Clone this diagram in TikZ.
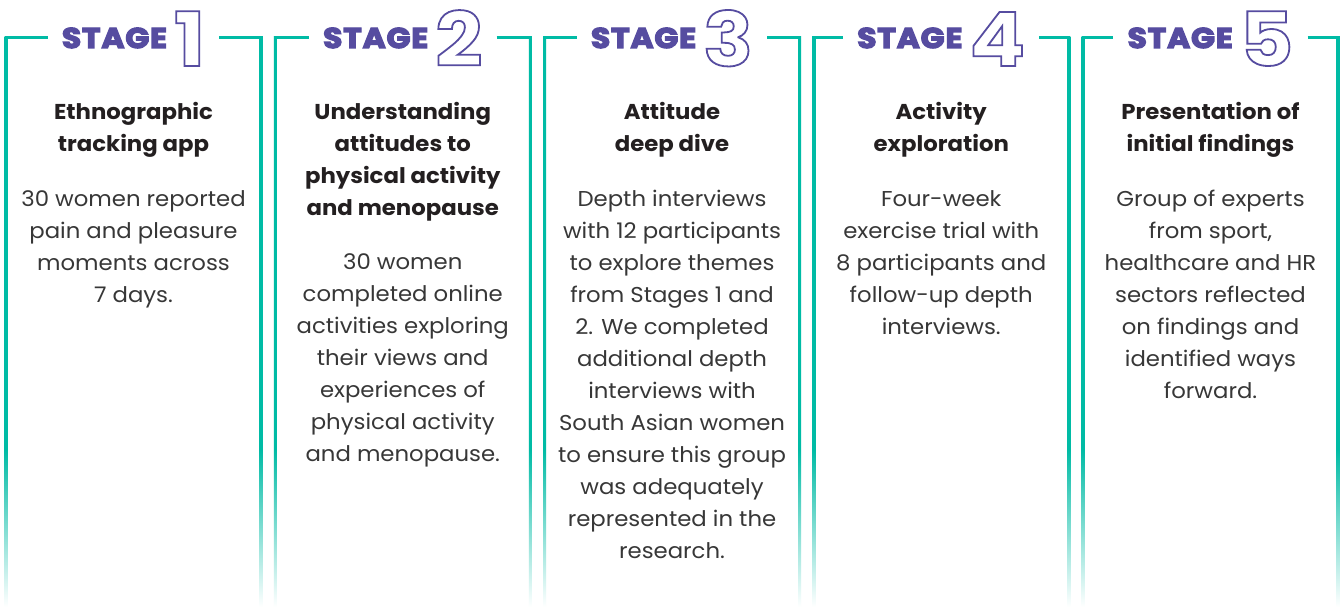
\documentclass[tikz,border=0pt]{standalone}
\usepackage{fontspec}
\setmainfont{Poppins}[FakeStretch=1.06]
\newfontfamily\stagefont[FakeStretch=1.1,LetterSpace=3]{Poppins}
\usetikzlibrary{positioning}
\definecolor{stageteal}{RGB}{0,187,165}
\definecolor{stagepurple}{RGB}{86,76,160}
\definecolor{headblack}{RGB}{35,31,32}
\definecolor{bodygrey}{RGB}{55,55,55}
% solid at the top, fading out over the lowest quarter
\pgfdeclareverticalshading{stagefade}{100bp}{color(0bp)=(white); color(25bp)=(white); color(38.8bp)=(stageteal); color(100bp)=(stageteal)}
% heavy word (fill + stroke) and outlined digit (stroke only)
\newcommand{\heavyword}[1]{\special{pdf:literal direct 2 Tr 1.3 w}#1\special{pdf:literal direct 0 Tr}}
\newcommand{\hollowdigit}[1]{{\fontsize{75}{75}\selectfont\special{pdf:literal direct 1 Tr 1.8 w}#1\special{pdf:literal direct 0 Tr}}}
\tikzset{
  stage title/.style={anchor=base, inner xsep=14pt, inner ysep=0pt, text=stagepurple, font=\stagefont\fontsize{28.5}{30}\selectfont\bfseries},
  stage line/.style={draw=stageteal, line width=3pt},
  stage post/.style={shading=stagefade, draw=none},
  stage head/.style={anchor=base, inner sep=0pt, align=center, text=headblack, font=\fontsize{21.5}{32}\selectfont\bfseries},
  stage text/.style={anchor=north, inner sep=0pt, align=center, text=bodygrey, font=\fontsize{21.5}{32}\selectfont},
}

\begin{document}
\begin{tikzpicture}[x=1pt,y=-1pt]
\useasboundingbox[fill=white] (0,0) rectangle (1343,607);
% the frames
\foreach \i in {1,...,5}{
  \pgfmathsetmacro{\xl}{6+(\i-1)*269.25}
  \pgfmathsetmacro{\xr}{\xl+255}
  \pgfmathsetmacro{\xc}{\xl+127.5}
  \coordinate (tl\i) at (\xl-1.5,38);
  \coordinate (tr\i) at (\xr+1.5,38);
  \node [stage title] (title\i) at (\xc,48) {\heavyword{STAGE}\hspace{7pt}\raisebox{-18pt}{\hollowdigit{\i}}};
  \draw [stage line] (tl\i) -- (title\i.west |- tl\i);
  \draw [stage line] (title\i.east |- tr\i) -- (tr\i);
  \shade [stage post] (\xl-1.5,36.5) rectangle (\xl+1.5,607);
  \shade [stage post] (\xr-1.5,36.5) rectangle (\xr+1.5,607);
}
% the headings (placed at the baseline of their last line)
\node [stage head] (head1) at (133.5,151) {Ethnographic\\tracking app};
\node [stage head] (head2) at (402.75,215) {Understanding\\attitudes to\\physical activity\\and menopause};
\node [stage head] (head3) at (672,151) {Attitude\\deep dive};
\node [stage head] (head4) at (941.25,151) {Activity\\exploration};
\node [stage head] (head5) at (1210.5,151) {Presentation of\\initial findings};
% the texts
\node [stage text,below=33pt of head1] (text1) {30 women reported\\pain and pleasure\\moments across\\7 days.};
\node [stage text,below=33pt of head2] (text2) {30 women\\completed online\\activities exploring\\their views and\\experiences of\\physical activity\\and menopause.};
\node [stage text,below=33pt of head3] (text3) {Depth interviews\\with 12 participants\\to explore themes\\from Stages 1 and\\2. We completed\\additional depth\\interviews with\\South Asian women\\to ensure this group\\was adequately\\represented in the\\research.};
\node [stage text,below=33pt of head4] (text4) {Four-week\\exercise trial with\\8 participants and\\follow-up depth\\interviews.};
\node [stage text,below=33pt of head5] (text5) {Group of experts\\from sport,\\healthcare and HR\\sectors reflected\\on findings and\\identified ways\\forward.};
\end{tikzpicture}
\end{document}
